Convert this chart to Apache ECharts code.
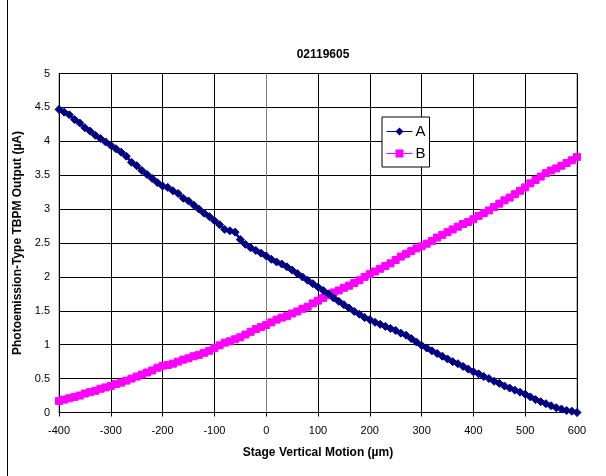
<!DOCTYPE html>
<html>
<head>
<meta charset="utf-8">
<script src="https://cdn.jsdelivr.net/npm/echarts@6/dist/echarts.min.js"></script>
<style>
    html, body { margin: 0; padding: 0; background: #fff; }
    #chart { width: 606px; height: 476px; }
</style>
</head>
<body>
<div id="chart"></div>
<script>
// 位移 (µm), 每10µm一个点
var xData = [];
for (var k = -400; k <= 600; k += 10) { xData.push(k); }

// A 通道电流 (µA)
var aData = [4.47, 4.43, 4.39, 4.32, 4.27, 4.20, 4.15, 4.09, 4.04, 3.99,
    3.94, 3.89, 3.84, 3.78, 3.69, 3.64, 3.57, 3.51, 3.45, 3.39,
    3.34, 3.32, 3.27, 3.23, 3.16, 3.12, 3.06, 3.00, 2.94, 2.89,
    2.83, 2.77, 2.70, 2.68, 2.66, 2.55, 2.48, 2.43, 2.39, 2.35,
    2.31, 2.26, 2.22, 2.19, 2.15, 2.10, 2.05, 2.00, 1.95, 1.90,
    1.85, 1.80, 1.75, 1.69, 1.64, 1.59, 1.54, 1.49, 1.45, 1.40,
    1.37, 1.33, 1.30, 1.27, 1.24, 1.21, 1.17, 1.14, 1.09, 1.04,
    0.99, 0.95, 0.91, 0.87, 0.83, 0.79, 0.75, 0.72, 0.68, 0.64,
    0.60, 0.57, 0.53, 0.50, 0.46, 0.43, 0.39, 0.36, 0.33, 0.30,
    0.27, 0.23, 0.19, 0.16, 0.13, 0.10, 0.07, 0.05, 0.03, 0.02,
    0.00];

// B 通道电流 (µA)
var bData = [0.17, 0.19, 0.21, 0.23, 0.25, 0.28, 0.30, 0.32, 0.35, 0.37,
    0.39, 0.42, 0.44, 0.47, 0.50, 0.53, 0.56, 0.59, 0.62, 0.66,
    0.69, 0.70, 0.72, 0.75, 0.78, 0.80, 0.83, 0.85, 0.88, 0.91,
    0.95, 0.99, 1.03, 1.05, 1.08, 1.11, 1.15, 1.19, 1.23, 1.26,
    1.29, 1.33, 1.37, 1.40, 1.42, 1.46, 1.49, 1.53, 1.56, 1.61,
    1.65, 1.69, 1.73, 1.77, 1.80, 1.84, 1.87, 1.91, 1.95, 2.00,
    2.04, 2.08, 2.12, 2.16, 2.20, 2.25, 2.30, 2.34, 2.38, 2.42,
    2.45, 2.49, 2.53, 2.58, 2.62, 2.66, 2.70, 2.74, 2.78, 2.81,
    2.85, 2.90, 2.94, 2.98, 3.03, 3.08, 3.13, 3.17, 3.22, 3.27,
    3.32, 3.38, 3.43, 3.48, 3.53, 3.57, 3.60, 3.64, 3.68, 3.72,
    3.77];

var seriesNames = ['A', 'B'];
var titleText = '02119605';
var xName = 'Stage Vertical Motion (µm)';
var yName = 'Photoemission-Type TBPM Output (µA)';

var myChart;
var fontFamily = '"Liberation Sans", Arial, sans-serif';

function pairs(ys) {
    var out = [];
    for (var i = 0; i < ys.length; i++) {
        out.push([xData[i], ys[i]]);
    }
    return out;
}

function loadChart() {
    myChart = echarts.init(document.getElementById('chart'), null, {renderer: 'canvas'});
    var option = {
        animation: false,
        backgroundColor: '#fff',
        textStyle: { fontFamily: fontFamily },
        title: {
            text: titleText,
            left: 318,
            textAlign: 'center',
            top: 44,
            textStyle: { fontSize: 12, fontWeight: 'bold', color: '#000', fontFamily: fontFamily }
        },
        legend: {
            orient: 'vertical',
            left: 382,
            top: 117,
            data: seriesNames,
            backgroundColor: '#fff',
            borderColor: '#000',
            borderWidth: 1,
            padding: [7, 4, 6, 4],
            itemGap: 7,
            itemWidth: 26,
            itemHeight: 10,
            lineStyle: { width: 1 },
            itemStyle: { borderWidth: 0 },
            textStyle: { fontSize: 15, color: '#000', fontFamily: fontFamily, padding: [0, 0, 0, -2] }
        },
        grid: {
            left: 59,
            right: 29,
            top: 73.5,
            bottom: 63.5,
            show: true,
            borderColor: '#808080',
            borderWidth: 1
        },
        xAxis: {
            type: 'value',
            min: -400,
            max: 600,
            interval: 100,
            name: xName,
            nameLocation: 'middle',
            nameGap: 34,
            nameTextStyle: { fontSize: 12, fontWeight: 'bold', color: '#000' },
            axisLine: { show: true, lineStyle: { color: '#000', width: 1 } },
            axisTick: { show: true, inside: false, length: 4, lineStyle: { color: '#000' } },
            axisLabel: { fontSize: 11, color: '#000', margin: 13 },
            splitLine: { show: true, lineStyle: { color: '#000', width: 1 } }
        },
        yAxis: {
            type: 'value',
            min: 0,
            max: 5,
            interval: 0.5,
            name: yName,
            nameLocation: 'middle',
            nameGap: 34,
            nameTextStyle: { fontSize: 12, fontWeight: 'bold', color: '#000' },
            axisLine: { show: true, lineStyle: { color: '#808080', width: 1 } },
            axisTick: { show: true, inside: false, length: 4, lineStyle: { color: '#000' } },
            axisLabel: { fontSize: 11, color: '#000', margin: 9 },
            splitLine: { show: true, lineStyle: { color: '#000', width: 1 } }
        },
        series: [
            {
                name: seriesNames[0],
                type: 'line',
                data: pairs(aData),
                symbol: 'diamond',
                symbolSize: 8,
                showSymbol: true,
                itemStyle: { color: '#000080', borderColor: '#000080', borderWidth: 1 },
                lineStyle: { color: '#000080', width: 2.5 },
                z: 3
            },
            {
                name: seriesNames[1],
                type: 'line',
                data: pairs(bData),
                symbol: 'rect',
                symbolSize: 7,
                showSymbol: true,
                itemStyle: { color: '#FF00FF', borderColor: '#FF00FF', borderWidth: 1 },
                lineStyle: { color: '#FF00FF', width: 3.5 },
                z: 2
            }
        ],
        graphic: [
            {
                type: 'line',
                shape: { x1: 7.5, y1: 0, x2: 7.5, y2: 476 },
                style: { stroke: '#000', lineWidth: 1 }
            }
        ]
    };
    myChart.setOption(option);
}

loadChart();
</script>
</body>
</html>
